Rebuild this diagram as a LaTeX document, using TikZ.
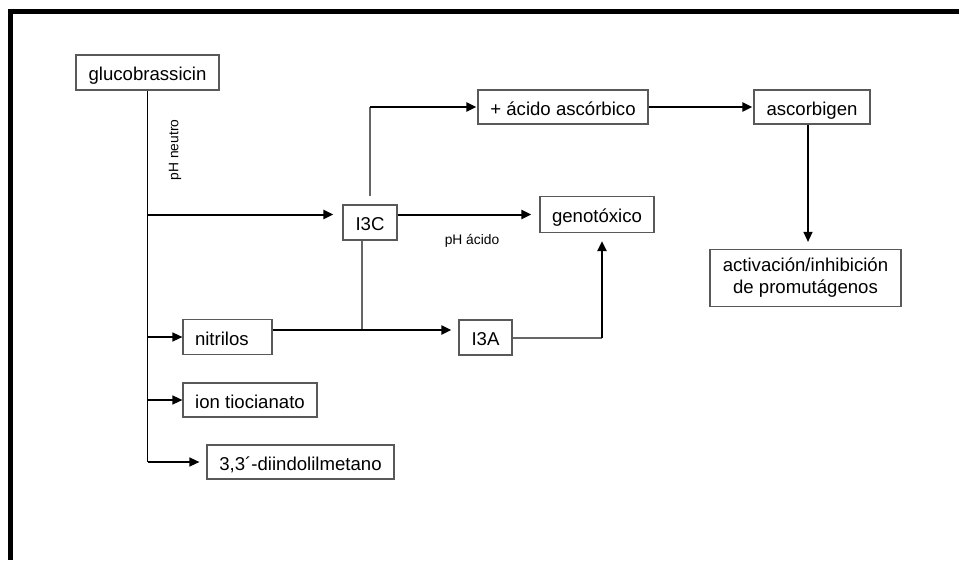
\documentclass[tikz,border=0pt]{standalone}
\usepackage{fontspec}
\setmainfont{Liberation Sans}
\usetikzlibrary{arrows.meta,calc}
\definecolor{BoxClr}{rgb}{0.35,0.35,0.35}
\definecolor{LineClr}{rgb}{0.4,0.4,0.4}

\begin{document}
\begin{tikzpicture}[x=1pt,y=-1pt,
  caja/.style={draw=BoxClr,line width=1.2pt,inner sep=0pt,minimum height=35pt,
    font=\fontsize{18.6}{22}\selectfont},
  linea/.style={caja,text height=17pt,text depth=1pt},
  flecha/.style={line width=2pt,-{Triangle[length=10pt,width=9pt]}},
  flechafina/.style={line width=1.3pt,-{Triangle[length=10pt,width=9pt]}},
  fina/.style={line width=1.2pt,draw=LineClr},
  rotulo/.style={font=\fontsize{13.8}{16}\selectfont}]
\useasboundingbox (0,0) rectangle (959,560);

% marco
\draw[line width=4.5pt] (10.5,560) -- (10.5,11.5) -- (959,11.5);

% cajas
\node[linea,minimum width=143pt] (glu) at (147.5,72.5) {glucobrassicin};
\node[linea,minimum width=54pt] (i3c) at (370,222.5) {I3C};
\node[linea,minimum width=170pt,minimum height=34pt] (acido) at (563,107) {+ ácido ascórbico};
\node[linea,minimum width=116pt,minimum height=34pt] (ascor) at (812,107) {ascorbigen};
\node[caja,minimum width=191pt,minimum height=57pt,align=center] (activ) at (805.5,278)
  {activación/inhibición\\de promutágenos};
\node[linea,minimum width=114pt,minimum height=36pt] (geno) at (597,214.5) {genotóxico};
\node[linea,text width=65pt,align=left,inner xsep=12pt] (nitr) at (227.5,337) {nitrilos};
\node[linea,minimum width=53pt] (i3a) at (485.5,337.5) {I3A};
\node[linea,minimum width=134pt,minimum height=34pt] (ion) at (250,400) {ion tiocianato};
\node[linea,minimum width=187pt,minimum height=34pt] (diin) at (300.5,462) {3,3´-diindolilmetano};

% rotulos
\node[rotulo,rotate=90] (neutro) at (175,150) {pH neutro};
\node[rotulo] (acidolbl) at (472,241) {pH ácido};

\coordinate (cruce) at (362,330);
\coordinate (esquina) at (602,338);

% tronco
\draw[line width=1.2pt] (glu.south) -- (glu.south |- diin.west);
\draw[flecha,shorten >=9pt] (glu.south |- geno.west) -- (i3c.west |- geno.west);
\draw[flechafina,line width=1.5pt] (glu.south |- nitr.west) -- (nitr.west);
\draw[flechafina,line width=1.5pt] (glu.south |- ion.west) -- (ion.west);
\draw[flechafina,line width=1.5pt,shorten >=7pt] (glu.south |- diin.west) -- (diin.west);

% I3C
\draw[fina] ([yshift=8pt]i3c.north) -- (i3c.north |- acido.west);
\draw[flecha,shorten >=1pt] (i3c.north |- acido.west) -- (acido.west);
\draw[flecha,shorten >=1pt] (acido.east) -- (ascor.west);
\draw[flechafina,shorten >=7pt] ([xshift=-4pt]ascor.south) -- ([xshift=-4pt]ascor.south |- activ.north);
\draw[flecha,shorten >=8pt] (i3c.east |- geno.west) -- (geno.west);
\draw[fina] (i3c.south -| cruce) -- (cruce);

% nitrilos
\draw[flecha,shorten >=7pt] (nitr.east |- cruce) -- (i3a.west |- cruce);
\draw[fina] (i3a.east |- esquina) -- (esquina);
\draw[flecha,line width=2.5pt,shorten >=8pt] (esquina) -- (esquina |- geno.south);

\end{tikzpicture}
\end{document}
